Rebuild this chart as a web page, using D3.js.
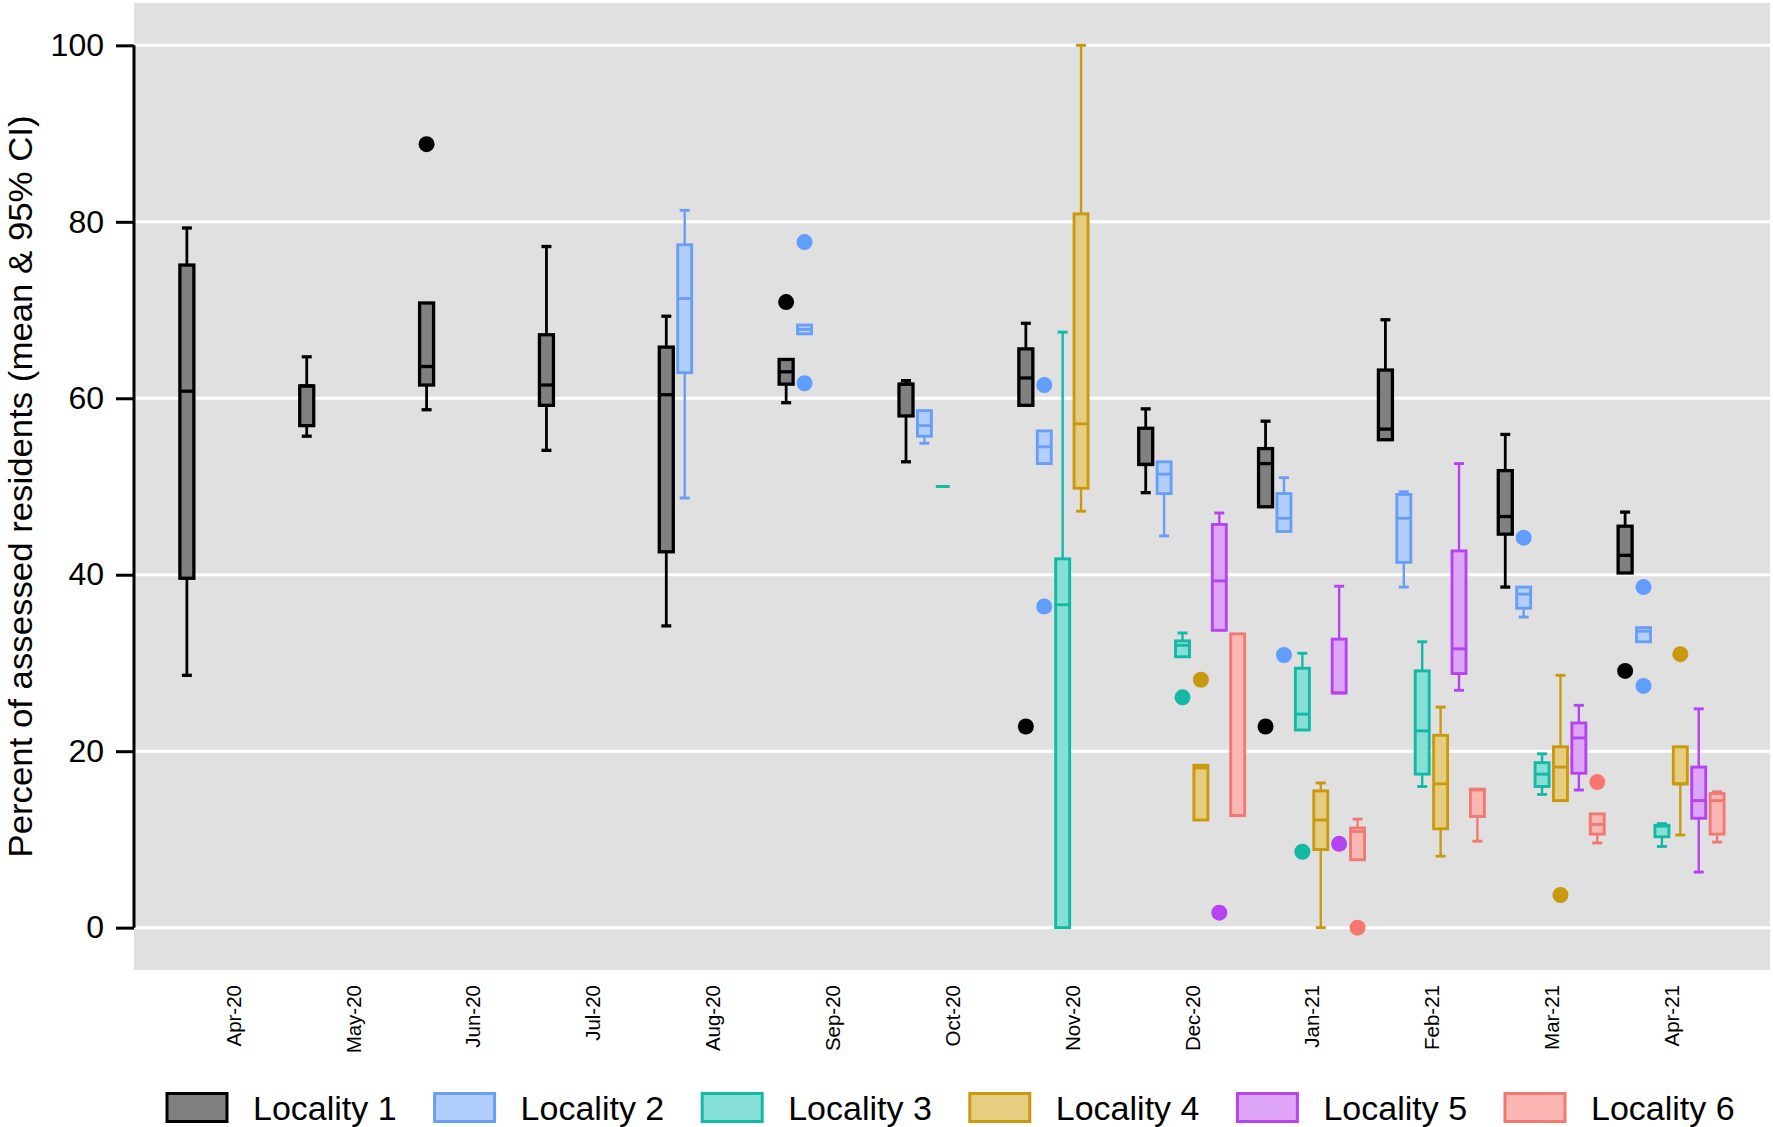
<!DOCTYPE html>
<html><head><meta charset="utf-8">
<script src="https://cdn.jsdelivr.net/npm/d3@7"></script>
<style>
body{margin:0;background:#fff;}
text{font-family:"Liberation Sans",Arial,Helvetica,sans-serif;fill:#000;}
</style>
</head><body>
<svg id="chart" width="1773" height="1127"></svg>
<script>
// ---------------- data ----------------
const months = ["Apr-20","May-20","Jun-20","Jul-20","Aug-20","Sep-20","Oct-20","Nov-20","Dec-20","Jan-21","Feb-21","Mar-21","Apr-21"];
const localities = ["Locality 1","Locality 2","Locality 3","Locality 4","Locality 5","Locality 6"];
const yTicks = [0,20,40,60,80,100];
const strokeColors = ["#000000","#6A9EF5","#12B9A4","#C99A10","#B443F0","#F07A73"];
const fillColors   = ["#808080","#B1CEFC","#86E0D5","#E5CD82","#DEA4F8","#FBB7B3"];
const dotColors    = ["#000000","#619CFF","#12B9A4","#C99A10","#B443F0","#F8766D"];

// [month, whiskerLow, boxLow, median, boxHigh, whiskerHigh]
const loc1Boxes = [
  ["Apr-20",28.6,39.6,60.8,75.1,79.3],
  ["May-20",55.7,56.9,61.4,61.4,64.7],
  ["Jun-20",58.7,61.5,63.6,70.8,70.8],
  ["Jul-20",54.1,59.2,61.5,67.2,77.2],
  ["Aug-20",34.2,42.6,60.4,65.8,69.3],
  ["Sep-20",59.5,61.6,63.0,64.4,64.4],
  ["Oct-20",52.8,58.0,61.6,61.6,62.0],
  ["Nov-20",59.2,59.2,62.3,65.6,68.5],
  ["Dec-20",49.3,52.5,52.5,56.6,58.8],
  ["Jan-21",47.7,47.7,52.6,54.3,57.4],
  ["Feb-21",55.3,55.3,56.5,63.2,68.9],
  ["Mar-21",38.6,44.6,46.6,51.8,55.9],
  ["Apr-21",40.2,40.2,42.2,45.5,47.1]
];
const loc2Boxes = [
  ["Aug-20",48.7,62.9,71.3,77.4,81.3],
  ["Sep-20",67.3,67.3,67.8,68.3,68.3],
  ["Oct-20",54.9,55.7,56.9,58.6,58.6],
  ["Nov-20",52.6,52.6,54.5,56.3,56.3],
  ["Dec-20",44.4,49.2,51.4,52.8,52.8],
  ["Jan-21",44.9,44.9,46.4,49.2,51.0],
  ["Feb-21",38.6,41.4,46.4,49.1,49.4],
  ["Mar-21",35.2,36.2,37.8,38.6,38.6],
  ["Apr-21",32.4,32.4,33.6,34.0,34.0]
];
const loc3Boxes = [
  ["Oct-20",50.0,50.0,50.0,50.0,50.0],
  ["Nov-20",0,0,36.6,41.8,67.5],
  ["Dec-20",30.7,30.7,32.0,32.5,33.4],
  ["Jan-21",22.4,22.4,24.2,29.4,31.1],
  ["Feb-21",16.0,17.4,22.3,29.1,32.4],
  ["Mar-21",15.1,16.0,17.4,18.7,19.7],
  ["Apr-21",9.2,10.3,11.5,11.6,11.8]
];
const loc4Boxes = [
  ["Nov-20",47.2,49.8,57.1,80.9,100],
  ["Dec-20",12.2,12.2,18.1,18.4,18.4],
  ["Jan-21",0,8.85,12.2,15.5,16.4],
  ["Feb-21",8.1,11.2,16.3,21.8,25.0],
  ["Mar-21",14.4,14.4,18.2,20.5,28.6],
  ["Apr-21",10.5,16.3,16.3,20.5,20.5]
];
const loc5Boxes = [
  ["Dec-20",33.7,33.7,39.3,45.7,47.0],
  ["Jan-21",26.6,26.6,26.6,32.7,38.7],
  ["Feb-21",26.9,28.8,31.6,42.7,52.6],
  ["Mar-21",15.6,17.5,21.5,23.2,25.2],
  ["Apr-21",6.3,12.4,14.4,18.2,24.8]
];
const loc6Boxes = [
  ["Dec-20",12.7,12.7,12.7,33.3,33.3],
  ["Jan-21",7.7,7.7,10.9,11.3,12.3],
  ["Feb-21",9.8,12.6,15.6,15.7,15.7],
  ["Mar-21",9.6,10.6,11.7,12.9,12.9],
  ["Apr-21",9.7,10.6,14.4,15.2,15.4]
];
// [month, value]
const loc1Dots = [["Jun-20",88.8],["Sep-20",70.9],["Nov-20",22.8],["Jan-21",22.8],["Apr-21",29.1]];
const loc2Dots = [["Sep-20",77.7],["Sep-20",61.7],["Nov-20",61.5],["Nov-20",36.4],["Jan-21",30.9],["Mar-21",44.2],["Apr-21",38.6],["Apr-21",27.4]];
const loc3Dots = [["Dec-20",26.1],["Jan-21",8.6]];
const loc4Dots = [["Dec-20",28.1],["Mar-21",3.7],["Apr-21",31.0]];
const loc5Dots = [["Dec-20",1.7],["Jan-21",9.5]];
const loc6Dots = [["Jan-21",0],["Mar-21",16.5]];

const boxesByLocality = [loc1Boxes,loc2Boxes,loc3Boxes,loc4Boxes,loc5Boxes,loc6Boxes];
const dotsByLocality  = [loc1Dots,loc2Dots,loc3Dots,loc4Dots,loc5Dots,loc6Dots];

// ---------------- layout ----------------
const svg = d3.select("#chart");
const panel = {left:134, right:1770, top:3, bottom:970};

const x = d3.scalePoint().domain(months).range([panel.left, panel.right]).padding(0.825);
const xOff = d3.scaleBand().domain(d3.range(6)).range([-55.2, 55.2]);
const y = d3.scaleLinear().domain([-4.8, 104.8]).range([panel.bottom, panel.top]);

const boxW = 14, capW = 10;
const cx = (m, k) => x(m) + xOff(k) + xOff.bandwidth()/2;

// panel background
svg.append("rect").attr("x", panel.left).attr("y", panel.top)
  .attr("width", panel.right - panel.left).attr("height", panel.bottom - panel.top)
  .attr("fill", "#e0e0e0");

// gridlines
svg.append("g").selectAll("line").data(yTicks).join("line")
  .attr("x1", panel.left).attr("x2", panel.right)
  .attr("y1", d => y(d)).attr("y2", d => y(d))
  .attr("stroke", "#ffffff").attr("stroke-width", 3);

// y axis
const yAxis = d3.axisLeft(y).tickValues(yTicks).tickSize(18).tickPadding(12).tickSizeOuter(0);
const gy = svg.append("g").attr("transform", `translate(${panel.left},0)`).call(yAxis);
gy.select(".domain").remove();
gy.append("line").attr("x1",0).attr("x2",0).attr("y1", y(0)).attr("y2", y(100))
  .attr("stroke","#000").attr("stroke-width",3);
gy.selectAll(".tick line").attr("stroke","#000").attr("stroke-width",3);
gy.selectAll(".tick text").attr("font-size", 32).attr("font-family", "Liberation Sans, Arial, sans-serif").attr("fill","#000");

svg.append("text")
  .attr("transform", `translate(32,${(y(0)+y(100))/2}) rotate(-90)`)
  .attr("text-anchor","middle").attr("font-size",34)
  .attr("textLength", 742).attr("lengthAdjust","spacingAndGlyphs")
  .text("Percent of assessed residents (mean & 95% CI)");

// x axis labels (rotated)
const xAxis = d3.axisBottom(x).tickSize(0).tickPadding(0);
const gx = svg.append("g").attr("transform", `translate(0,${panel.bottom})`).call(xAxis);
gx.select(".domain").remove();
gx.selectAll(".tick text")
  .attr("font-size", 20.5).attr("font-family", "Liberation Sans, Arial, sans-serif").attr("fill","#000")
  .attr("text-anchor","end").attr("transform","rotate(-90)")
  .attr("x", -15).attr("y", 0).attr("dy","0.36em");

// boxes
boxesByLocality.forEach((boxes, k) => {
  const sw = k === 0 ? 3.3 : 2.9;
  const ww = k === 0 ? 2.8 : 2.4;
  const g = svg.append("g");
  const col = strokeColors[k];
  // whiskers
  g.selectAll("line.wl").data(boxes).join("line")
    .attr("x1", d => cx(d[0],k)).attr("x2", d => cx(d[0],k))
    .attr("y1", d => y(d[1])).attr("y2", d => y(d[5]))
    .attr("stroke", col).attr("stroke-width", ww);
  g.selectAll("line.cl").data(boxes.filter(d => d[1] < d[2])).join("line")
    .attr("x1", d => cx(d[0],k)-capW/2).attr("x2", d => cx(d[0],k)+capW/2)
    .attr("y1", d => y(d[1])).attr("y2", d => y(d[1]))
    .attr("stroke", col).attr("stroke-width", sw);
  g.selectAll("line.ch").data(boxes.filter(d => d[5] > d[4])).join("line")
    .attr("x1", d => cx(d[0],k)-capW/2).attr("x2", d => cx(d[0],k)+capW/2)
    .attr("y1", d => y(d[5])).attr("y2", d => y(d[5]))
    .attr("stroke", col).attr("stroke-width", sw);
  // box
  g.selectAll("rect").data(boxes).join("rect")
    .attr("x", d => cx(d[0],k)-boxW/2).attr("width", boxW)
    .attr("y", d => y(d[4])).attr("height", d => Math.max(0, y(d[2]) - y(d[4])))
    .attr("fill", fillColors[k]).attr("stroke", col).attr("stroke-width", sw);
  // median
  g.selectAll("line.md").data(boxes).join("line")
    .attr("x1", d => cx(d[0],k)-boxW/2).attr("x2", d => cx(d[0],k)+boxW/2)
    .attr("y1", d => y(d[3])).attr("y2", d => y(d[3]))
    .attr("stroke", col).attr("stroke-width", sw);
});

// dots
dotsByLocality.forEach((dots, k) => {
  svg.append("g").selectAll("circle").data(dots).join("circle")
    .attr("cx", d => cx(d[0],k)).attr("cy", d => y(d[1])).attr("r", 8)
    .attr("fill", dotColors[k]);
});

// legend
const legendX = d3.scalePoint().domain(localities).range([167, 167 + 5*267.6]);
const lg = svg.append("g").selectAll("g").data(localities).join("g")
  .attr("transform", d => `translate(${legendX(d)},1093.5)`);
lg.append("rect").attr("width", 60).attr("height", 28)
  .attr("fill", (d,i) => fillColors[i]).attr("stroke", (d,i) => strokeColors[i]).attr("stroke-width", 3);
lg.append("text").attr("x", 86).attr("y", 26).attr("font-size", 34).text(d => d);
</script>
</body></html>
